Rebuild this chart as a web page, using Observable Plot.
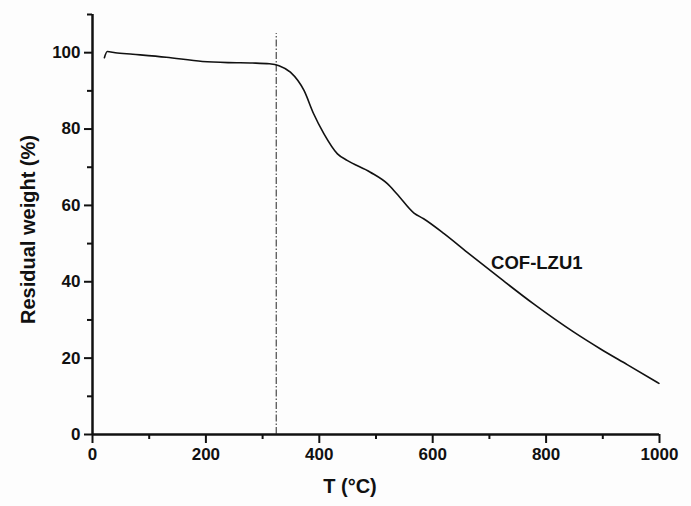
<!DOCTYPE html>
<html>
<head>
<meta charset="utf-8">
<script src="https://cdn.jsdelivr.net/npm/d3@7"></script>
<script src="https://cdn.jsdelivr.net/npm/@observablehq/plot@0.6"></script>
<style>
  html, body { margin: 0; padding: 0; background: #fdfdfd; }
  svg { display: block; }
</style>
</head>
<body>
<div id="chart"></div>
<script>
// Temperature (°C) and residual weight (%)
const temps = [21, 26, 40, 71, 130, 194, 240, 282, 312, 329, 349, 373, 390, 408, 432, 449, 490, 520, 537, 567, 584, 620, 661, 720, 778, 849, 896, 943, 999];
const weights = [98.7, 100.3, 100.0, 99.6, 98.8, 97.7, 97.4, 97.3, 97.1, 96.6, 94.9, 90.1, 84.0, 78.8, 73.5, 71.8, 68.7, 65.7, 63.0, 58.0, 56.5, 52.6, 47.7, 40.8, 34.2, 26.8, 22.4, 18.3, 13.4];

// Onset marker (dash-dot line)
const onsetT = [324];
const onsetTop = [105];

// Ticks
const xMajor = [0, 200, 400, 600, 800, 1000];
const xMinor = [100, 300, 500, 700, 900];
const yMajor = [0, 20, 40, 60, 80, 100];
const yMinor = [10, 30, 50, 70, 90, 110];

// Labels
const seriesName = ["COF-LZU1"];
const seriesLabelPos = [{T: 703, W: 45}];
const xTitle = ["T (°C)"];
const yTitle = ["Residual weight (%)"];

const data = temps.map((t, i) => ({T: t, W: weights[i]}));
const font = "Liberation Sans, Arial, sans-serif";

const chart = Plot.plot({
  width: 691,
  height: 506,
  marginLeft: 92,
  marginRight: 32,
  marginTop: 14,
  marginBottom: 72,
  style: {fontFamily: font, background: "transparent", color: "#111"},
  x: {domain: [0, 1000]},
  y: {domain: [0, 110]},
  marks: [
    Plot.axisX(xMajor, {tickSize: 9, tickPadding: 4, fontSize: 17, fontWeight: "bold", strokeWidth: 2, tickFormat: d => String(d), label: null}),
    Plot.axisX(xMinor, {tickSize: 5, strokeWidth: 2, tickFormat: () => "", label: null}),
    Plot.axisY(yMajor, {tickSize: 8, tickPadding: 4, fontSize: 17, fontWeight: "bold", strokeWidth: 2, tickFormat: d => String(d), label: null}),
    Plot.axisY(yMinor, {tickSize: 5, strokeWidth: 2, tickFormat: () => "", label: null}),
    Plot.ruleX([0], {stroke: "#111", strokeWidth: 2.5}),
    Plot.ruleY([0], {stroke: "#111", strokeWidth: 2.5}),
    Plot.ruleX(onsetT, {x: d => d, y1: 0, y2: onsetTop[0], stroke: "#222", strokeWidth: 1, strokeDasharray: "7,2,1.5,2"}),
    Plot.line(data, {x: "T", y: "W", stroke: "#111", strokeWidth: 1.6, curve: "monotone-x"}),
    Plot.text(seriesLabelPos, {x: "T", y: "W", text: () => seriesName[0], textAnchor: "start", fontSize: 18.5, fontWeight: "bold", fill: "#111"}),
    Plot.text(xTitle, {text: d => d, frameAnchor: "bottom", textAnchor: "middle", dx: -26, dy: 58, fontSize: 20, fontWeight: "bold", fill: "#111"}),
    Plot.text(yTitle, {text: d => d, frameAnchor: "left", textAnchor: "middle", lineAnchor: "middle", dx: -64, dy: 5, rotate: -90, fontSize: 20, fontWeight: "bold", fill: "#111"})
  ]
});
document.getElementById("chart").appendChild(chart);
</script>
</body>
</html>
